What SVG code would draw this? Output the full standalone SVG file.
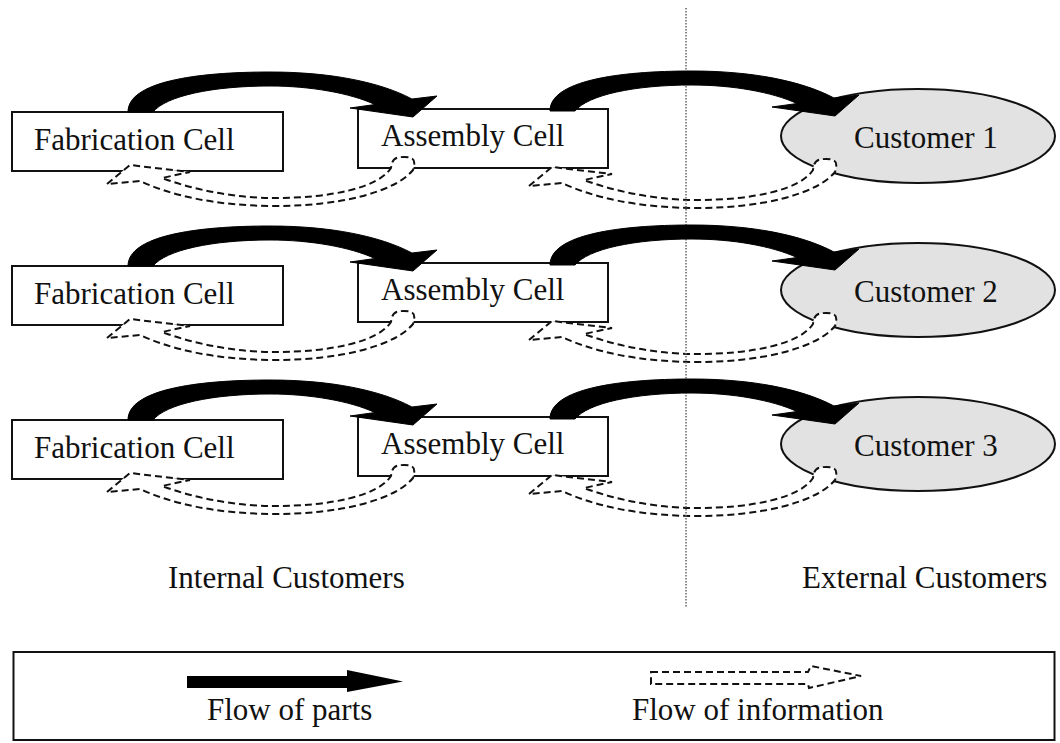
<svg xmlns="http://www.w3.org/2000/svg" width="1060" height="743" viewBox="0 0 1060 743">
<defs>
<style>
text{font-family:"Liberation Serif","Times New Roman",serif;font-size:31px;fill:#111}
.box{fill:#fff;stroke:#111;stroke-width:2}
.cust{fill:#e2e2e2;stroke:#111;stroke-width:2}
.parts{fill:#000;stroke:#000;stroke-width:1;stroke-linejoin:round}
.info{fill:#fff;stroke:#111;stroke-width:2;stroke-dasharray:7 4}
.divider{stroke:#666;stroke-width:1.5;stroke-dasharray:1.5 1.5;fill:none}
</style>
<path id="partsArrow" d="M128,112 C128,82 195,72 270,72 C330,72 380,82 412,99 L437,96 L413,117 L350,108 L375,104.5 C350,93 310,86 270,86 C212,86 166,96 153,112 Z"/>
<path id="infoArrow" d="M107,184 L130,165 L190,172 L162,178 C200,192 240,198 275,198 C330,198 378,188 391,168 C392,160 394,157 404,157 C414,157 416,160 413,170 C395,192 340,206 275,206 C215,206 170,195 140,181 Z"/>
</defs>
<rect width="1060" height="743" fill="#fff"/>

<g id="row1">
<g id="fab1"><rect class="box" x="12" y="112" width="271" height="59"/><text x="34" y="150">Fabrication Cell</text></g>
<g id="asm1"><rect class="box" x="358" y="109" width="250" height="59"/><text x="381" y="146">Assembly Cell</text></g>
<g id="cust1"><ellipse class="cust" cx="918" cy="136" rx="137" ry="47"/><text x="854" y="148">Customer 1</text></g>
</g>
<g id="row2" transform="translate(0,154)">
<g id="fab2"><rect class="box" x="12" y="112" width="271" height="59"/><text x="34" y="150">Fabrication Cell</text></g>
<g id="asm2"><rect class="box" x="358" y="109" width="250" height="59"/><text x="381" y="146">Assembly Cell</text></g>
<g id="cust2"><ellipse class="cust" cx="918" cy="136" rx="137" ry="47"/><text x="854" y="148">Customer 2</text></g>
</g>
<g id="row3" transform="translate(0,308)">
<g id="fab3"><rect class="box" x="12" y="112" width="271" height="59"/><text x="34" y="150">Fabrication Cell</text></g>
<g id="asm3"><rect class="box" x="358" y="109" width="250" height="59"/><text x="381" y="146">Assembly Cell</text></g>
<g id="cust3"><ellipse class="cust" cx="918" cy="136" rx="137" ry="47"/><text x="854" y="148">Customer 3</text></g>
</g>

<g id="connectors">
<use href="#infoArrow" class="info"/>
<use href="#infoArrow" class="info" transform="translate(422,2)"/>
<use href="#infoArrow" class="info" transform="translate(0,154)"/>
<use href="#infoArrow" class="info" transform="translate(422,156)"/>
<use href="#infoArrow" class="info" transform="translate(0,308)"/>
<use href="#infoArrow" class="info" transform="translate(422,310)"/>
<line class="divider" x1="686" y1="8" x2="686" y2="608"/>
<use href="#partsArrow" class="parts"/>
<use href="#partsArrow" class="parts" transform="translate(422,-1)"/>
<use href="#partsArrow" class="parts" transform="translate(0,154)"/>
<use href="#partsArrow" class="parts" transform="translate(422,153)"/>
<use href="#partsArrow" class="parts" transform="translate(0,308)"/>
<use href="#partsArrow" class="parts" transform="translate(422,307)"/>
</g>

<g id="labels">
<text x="168" y="588">Internal Customers</text>
<text x="802" y="588">External Customers</text>
</g>

<g id="legend">
<rect x="13.5" y="652" width="1041" height="88" fill="#fff" stroke="#111" stroke-width="2"/>
<polygon points="187,676 347,676 347,670 403,681.5 347,692 347,688 187,688" fill="#000"/>
<text x="207" y="720">Flow of parts</text>
<path class="info" d="M651,672 L808,672 L811,666 L861,676 L809,688 L808,684 L651,684 Z"/>
<text x="632" y="720">Flow of information</text>
</g>
</svg>
